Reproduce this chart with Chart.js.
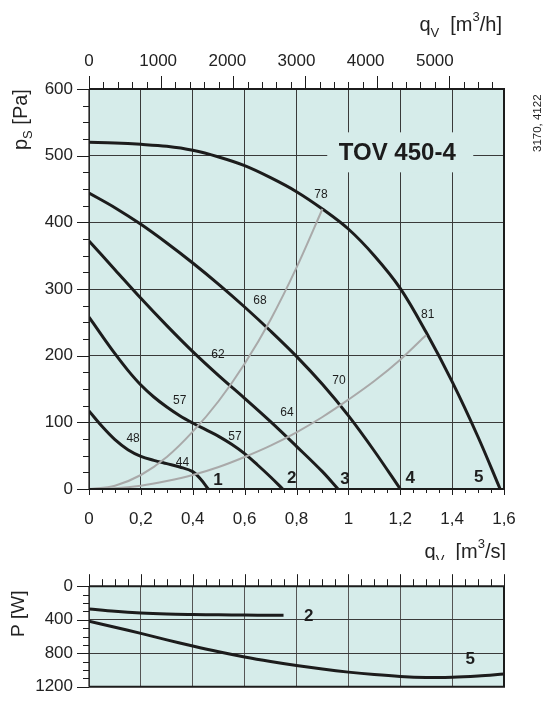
<!DOCTYPE html>
<html>
<head>
<meta charset="utf-8">
<title>TOV 450-4</title>
<script src="https://cdn.jsdelivr.net/npm/chart.js@4.4.1/dist/chart.umd.min.js"></script>
<style>
  body { margin: 0; background: #fff; }
  #wrap { position: relative; width: 544px; height: 713px; overflow: hidden; }
  #mainBox { position: absolute; left: 0; top: 0; width: 544px; height: 560px; }
  #powerBox { position: absolute; left: 0; top: 560px; width: 544px; height: 153px; }
</style>
</head>
<body>
<div id="wrap">
  <div id="mainBox"><canvas id="mainChart"></canvas></div>
  <div id="powerBox"><canvas id="powerChart"></canvas></div>
</div>
<script>
// tick labels
var qsLabels = ['0', '0,2', '0,4', '0,6', '0,8', '1', '1,2', '1,4', '1,6'];
var qhLabels = ['0', '1000', '2000', '3000', '4000', '5000'];
var psLabels = ['0', '100', '200', '300', '400', '500', '600'];
var pwLabels = ['0', '400', '800', '1200'];

// fan curves, q in m3/s, ps in Pa
var q1 = [0, 0.05, 0.1, 0.15, 0.2, 0.25, 0.3, 0.35, 0.4, 0.43, 0.46];
var p1 = [117, 94, 74, 59, 49, 43, 38, 33, 26, 15, 0];
var q2 = [0, 0.05, 0.1, 0.15, 0.2, 0.25, 0.3, 0.35, 0.4, 0.45, 0.5, 0.55, 0.6, 0.65, 0.7, 0.747];
var p2 = [258, 230, 203, 178, 156, 138, 123, 110, 99, 89, 79, 67, 53, 36, 18, 0];
var q3 = [0, 0.1, 0.2, 0.3, 0.4, 0.5, 0.6, 0.7, 0.8, 0.9, 0.96];
var p3 = [372, 329, 286, 245, 206, 170, 136, 101, 64, 26, 0];
var q4 = [0, 0.1, 0.2, 0.3, 0.4, 0.5, 0.6, 0.7, 0.8, 0.9, 1.0, 1.1, 1.2];
var p4 = [444, 422, 397, 369, 339, 307, 273, 237, 199, 157, 110, 57, 0];
var q5 = [0, 0.1, 0.2, 0.3, 0.4, 0.5, 0.6, 0.7, 0.8, 0.9, 1.0, 1.1, 1.2, 1.3, 1.4, 1.5, 1.585];
var p5 = [520, 519, 517, 514, 508, 498, 485, 467, 446, 420, 390, 350, 301, 235, 161, 78, 0];

// system (grey) lines
var qA = [0, 0.1, 0.2, 0.3, 0.4, 0.5, 0.6, 0.7, 0.8, 0.9];
var pA = [0, 5, 21, 48, 86, 132, 188, 254, 332, 420];
var qB = [0, 0.1, 0.2, 0.3, 0.4, 0.5, 0.6, 0.7, 0.8, 0.9, 1.0, 1.1, 1.2, 1.3];
var pB = [0, 1, 5, 12, 21, 33, 48, 65, 85, 108, 134, 162, 194, 231];

// efficiency / sound numbers along the curves
var effText = ['48', '44', '57', '57', '62', '64', '68', '70', '78', '81'];
var effQ = [0.17, 0.36, 0.35, 0.563, 0.497, 0.763, 0.659, 0.964, 0.894, 1.306];
var effP = [76, 40, 133, 78, 201, 114, 282, 162, 442, 262];

// curve numbers
var curveNames = ['1', '2', '3', '4', '5'];
var nameQ = [0.497, 0.782, 0.987, 1.238, 1.503];
var nameP = [13, 16, 15, 16, 18];

// power, W
var qP2 = [0, 0.1, 0.2, 0.3, 0.4, 0.5, 0.6, 0.7, 0.75];
var pw2 = [272, 300, 320, 332, 338, 342, 345, 347, 347];
var qP5 = [0, 0.1, 0.2, 0.3, 0.4, 0.5, 0.6, 0.7, 0.8, 0.9, 1.0, 1.1, 1.2, 1.3, 1.4, 1.5, 1.6];
var pw5 = [418, 490, 563, 640, 714, 783, 845, 899, 947, 989, 1025, 1054, 1076, 1088, 1087, 1072, 1048];
var powerNames = ['2', '5'];
var powerNameQ = [0.847, 1.47];
var powerNameP = [356, 871];

var FILL = 'rgb(214, 236, 234)';
var INK = '#1c1c1c';
var GREY = '#a9a9a9';
var GRID = '#3a3a3a';
var FONT = '"Liberation Sans", Arial, Helvetica, sans-serif';

Chart.defaults.font.family = FONT;
Chart.defaults.color = '#222';
Chart.defaults.animation = false;

function pts(qs, vs) {
  return qs.map(function (q, i) { return { x: q, y: vs[i] }; });
}

function curve(qs, vs, color, width) {
  return {
    data: pts(qs, vs),
    borderColor: color,
    borderWidth: width,
    pointRadius: 0,
    fill: false,
    tension: 0.35
  };
}

// minor/major tick marks outside the plot frame
function tickRow(ctx, scale, area, side, last, step, majorEvery, majorLen, minorLen) {
  ctx.save();
  ctx.strokeStyle = INK;
  ctx.lineWidth = 1;
  for (var n = 0; n * step <= last + 1e-9; n++) {
    var len = n % majorEvery === 0 ? majorLen : minorLen;
    var p = Math.round(scale.getPixelForValue(n * step)) + 0.5;
    ctx.beginPath();
    if (side === 'left') { ctx.moveTo(area.left - len, p); ctx.lineTo(area.left, p); }
    else if (side === 'top') { ctx.moveTo(p, area.top - len); ctx.lineTo(p, area.top); }
    else { ctx.moveTo(p, area.bottom); ctx.lineTo(p, area.bottom + len); }
    ctx.stroke();
  }
  ctx.restore();
}

// text with sub/superscripts, right end at x (or start at x when rotated)
function richText(ctx, parts, x, y, angle, alignRight) {
  ctx.save();
  ctx.translate(x, y);
  if (angle) ctx.rotate(angle);
  ctx.fillStyle = '#222';
  ctx.textBaseline = 'alphabetic';
  ctx.textAlign = 'left';
  var total = 0;
  parts.forEach(function (p) {
    ctx.font = p.size + 'px ' + FONT;
    total += ctx.measureText(p.t).width;
  });
  var cx = alignRight ? -total : 0;
  parts.forEach(function (p) {
    ctx.font = p.size + 'px ' + FONT;
    ctx.fillText(p.t, cx, p.dy || 0);
    cx += ctx.measureText(p.t).width;
  });
  ctx.restore();
}

function fillArea(chart) {
  var a = chart.chartArea, ctx = chart.ctx;
  ctx.save();
  ctx.fillStyle = FILL;
  ctx.fillRect(a.left, a.top, a.right - a.left, a.bottom - a.top);
  ctx.restore();
}

function frame(chart) {
  var a = chart.chartArea, ctx = chart.ctx;
  ctx.save();
  ctx.strokeStyle = INK;
  ctx.lineWidth = 2;
  ctx.beginPath();
  ctx.moveTo(a.left, a.top); ctx.lineTo(a.right, a.top);
  ctx.lineTo(a.right, a.bottom); ctx.lineTo(a.left, a.bottom);
  ctx.stroke();
  ctx.lineWidth = 1.2;
  ctx.beginPath();
  ctx.moveTo(a.left, a.top); ctx.lineTo(a.left, a.bottom);
  ctx.stroke();
  ctx.restore();
}

function pointLabels(chart, texts, qs, vs, font) {
  var ctx = chart.ctx, sx = chart.scales.x, sy = chart.scales.y;
  ctx.save();
  ctx.font = font;
  ctx.fillStyle = '#1e1e1e';
  ctx.textAlign = 'center';
  ctx.textBaseline = 'middle';
  texts.forEach(function (t, i) {
    ctx.fillText(t, sx.getPixelForValue(qs[i]), sy.getPixelForValue(vs[i]));
  });
  ctx.restore();
}

var mainDecor = {
  id: 'mainDecor',
  beforeDraw: fillArea,
  beforeDatasetsDraw: function (chart) {
    var ctx = chart.ctx, sx = chart.scales.x, sy = chart.scales.y;
    var cx = sx.getPixelForValue(1.2), cy = sy.getPixelForValue(505);
    ctx.save();
    ctx.fillStyle = FILL;
    ctx.fillRect(cx - 73, cy - 20, 146, 40);
    ctx.fillStyle = INK;
    ctx.font = 'bold 24px ' + FONT;
    ctx.textAlign = 'center';
    ctx.textBaseline = 'middle';
    ctx.fillText('TOV 450-4', cx - 3, cy + 1);
    ctx.restore();
  },
  afterDatasetsDraw: function (chart) {
    pointLabels(chart, effText, effQ, effP, '12px ' + FONT);
    pointLabels(chart, curveNames, nameQ, nameP, 'bold 17px ' + FONT);
  },
  afterDraw: function (chart) {
    var ctx = chart.ctx, a = chart.chartArea;
    frame(chart);
    tickRow(ctx, chart.scales.y, a, 'left', 600, 25, 4, 12, 6);
    tickRow(ctx, chart.scales.x, a, 'bottom', 1.6, 0.05, 4, 6, 4);
    tickRow(ctx, chart.scales.xh, a, 'top', 5760, 200, 5, 13, 7);
    richText(ctx, [
      { t: 'q', size: 20 }, { t: 'V', size: 13, dy: 6 }, { t: '  [m', size: 20 },
      { t: '3', size: 13, dy: -10 }, { t: '/h]', size: 20 }
    ], 502, 31, 0, true);
    richText(ctx, [
      { t: 'q', size: 20 }, { t: 'V', size: 13, dy: 6 }, { t: '  [m', size: 20 },
      { t: '3', size: 13, dy: -10 }, { t: '/s]', size: 20 }
    ], 506, 558, 0, true);
    richText(ctx, [
      { t: 'p', size: 20 }, { t: 'S', size: 13, dy: 5 }, { t: ' [Pa]', size: 20 }
    ], 27, 150, -Math.PI / 2, false);
    richText(ctx, [{ t: '3170, 4122', size: 11.5 }], 541, 152, -Math.PI / 2, false);
  }
};

var powerDecor = {
  id: 'powerDecor',
  beforeDraw: fillArea,
  afterDatasetsDraw: function (chart) {
    pointLabels(chart, powerNames, powerNameQ, powerNameP, 'bold 17px ' + FONT);
  },
  afterDraw: function (chart) {
    var ctx = chart.ctx, a = chart.chartArea;
    frame(chart);
    tickRow(ctx, chart.scales.y, a, 'left', 1200, 100, 4, 12, 6);
    tickRow(ctx, chart.scales.x, a, 'top', 1.6, 0.05, 4, 12, 7);
    richText(ctx, [{ t: 'P [W]', size: 19 }], 24, 77, -Math.PI / 2, false);
  }
};

new Chart(document.getElementById('mainChart'), {
  type: 'line',
  data: {
    datasets: [
      curve(qA, pA, GREY, 2),
      curve(qB, pB, GREY, 2),
      curve(q1, p1, INK, 3),
      curve(q2, p2, INK, 3),
      curve(q3, p3, INK, 3),
      curve(q4, p4, INK, 3),
      curve(q5, p5, INK, 3)
    ]
  },
  options: {
    responsive: true,
    maintainAspectRatio: false,
    layout: { padding: { right: 40 } },
    plugins: { legend: { display: false }, tooltip: { enabled: false } },
    scales: {
      x: {
        type: 'linear', position: 'bottom', min: 0, max: 1.6,
        afterFit: function (s) { s.height = 71; },
        grid: { color: GRID, lineWidth: 1, drawTicks: false },
        border: { display: false },
        ticks: {
          stepSize: 0.2, padding: 20, maxRotation: 0, autoSkip: false, font: { size: 17 },
          callback: function (v) { return qsLabels[Math.round(v / 0.2)]; }
        }
      },
      xh: {
        type: 'linear', position: 'top', min: 0, max: 5760,
        afterFit: function (s) { s.height = 89; },
        grid: { drawOnChartArea: false, drawTicks: false },
        border: { display: false },
        ticks: {
          stepSize: 1000, includeBounds: false, padding: 17, maxRotation: 0, autoSkip: false, font: { size: 17 },
          callback: function (v) { return qhLabels[Math.round(v / 1000)]; }
        }
      },
      y: {
        min: 0, max: 600,
        afterFit: function (s) { s.width = 89; },
        grid: { color: GRID, lineWidth: 1, drawTicks: false },
        border: { display: false },
        ticks: {
          stepSize: 100, padding: 16, font: { size: 17 },
          callback: function (v) { return psLabels[Math.round(v / 100)]; }
        }
      }
    }
  },
  plugins: [mainDecor]
});

new Chart(document.getElementById('powerChart'), {
  type: 'line',
  data: {
    datasets: [
      curve(qP2, pw2, INK, 3),
      curve(qP5, pw5, INK, 3)
    ]
  },
  options: {
    responsive: true,
    maintainAspectRatio: false,
    layout: { padding: { top: 25, right: 40 } },
    plugins: { legend: { display: false }, tooltip: { enabled: false } },
    scales: {
      x: {
        type: 'linear', position: 'bottom', min: 0, max: 1.6,
        afterFit: function (s) { s.height = 12; },
        grid: { color: '#555', lineWidth: 1, drawTicks: false },
        border: { display: false },
        ticks: { stepSize: 0.2, display: false }
      },
      y: {
        reverse: true, min: 0, max: 1200,
        afterFit: function (s) { s.width = 89; },
        grid: { color: GRID, lineWidth: 1, drawTicks: false },
        border: { display: false },
        ticks: {
          stepSize: 400, padding: 16, font: { size: 17 },
          callback: function (v) { return pwLabels[Math.round(v / 400)]; }
        }
      }
    }
  },
  plugins: [powerDecor]
});
</script>
</body>
</html>
